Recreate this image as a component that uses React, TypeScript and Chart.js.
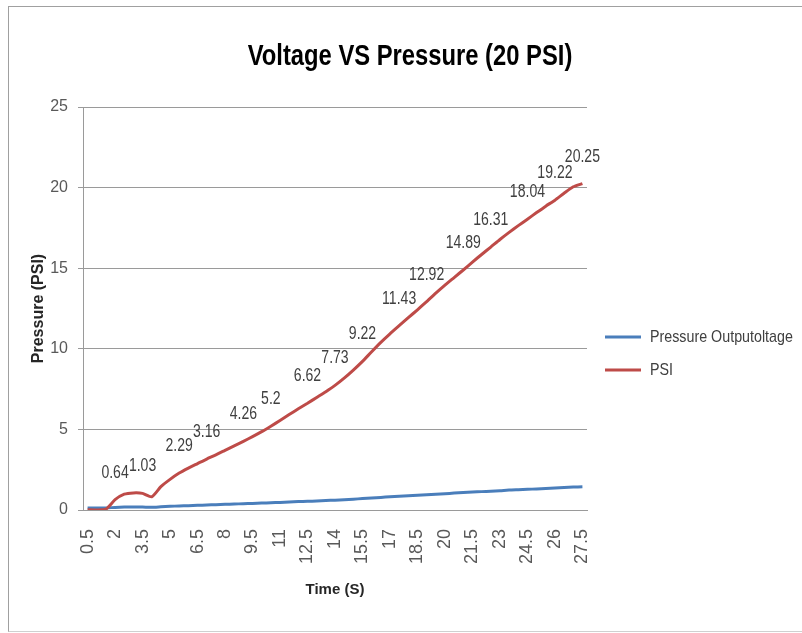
import React, { useEffect, useRef } from 'react';
import { Chart, registerables } from 'chart.js';

Chart.register(...registerables);

// ---------- data ----------
const CHART_TITLE = 'Voltage VS Pressure (20 PSI)';
const X_TITLE = 'Time (S)';
const Y_TITLE = 'Pressure (PSI)';
const SERIES_NAMES = ['Pressure Outputoltage', 'PSI'];

const TIMES = [
  '0.5', '1', '1.5', '2', '2.5', '3', '3.5', '4', '4.5', '5',
  '5.5', '6', '6.5', '7', '7.5', '8', '8.5', '9', '9.5', '10',
  '10.5', '11', '11.5', '12', '12.5', '13', '13.5', '14', '14.5', '15',
  '15.5', '16', '16.5', '17', '17.5', '18', '18.5', '19', '19.5', '20',
  '20.5', '21', '21.5', '22', '22.5', '23', '23.5', '24', '24.5', '25',
  '25.5', '26', '26.5', '27', '27.5',
];

const X_TICK_LABELS = [
  '0.5', '2', '3.5', '5', '6.5', '8', '9.5', '11', '12.5', '14',
  '15.5', '17', '18.5', '20', '21.5', '23', '24.5', '26', '27.5',
];

const VOLTAGE = [
  0.12, 0.12, 0.13, 0.16, 0.18, 0.18, 0.18, 0.17, 0.2, 0.23,
  0.25, 0.27, 0.29, 0.31, 0.33, 0.35, 0.37, 0.39, 0.41, 0.43,
  0.45, 0.47, 0.5, 0.52, 0.54, 0.56, 0.59, 0.61, 0.64, 0.67,
  0.71, 0.74, 0.78, 0.82, 0.85, 0.88, 0.92, 0.95, 0.98, 1.01,
  1.05, 1.08, 1.11, 1.14, 1.17, 1.2, 1.24, 1.26, 1.28, 1.31,
  1.33, 1.36, 1.39, 1.42, 1.44,
];

const PSI = [
  0.02, 0, 0.05, 0.64, 0.98, 1.06, 1.03, 0.82, 1.45, 1.9,
  2.29, 2.6, 2.88, 3.16, 3.42, 3.7, 3.98, 4.26, 4.55, 4.86,
  5.2, 5.55, 5.92, 6.28, 6.62, 6.98, 7.34, 7.73, 8.18, 8.68,
  9.22, 9.82, 10.4, 10.93, 11.43, 11.93, 12.42, 12.92, 13.45, 13.95,
  14.42, 14.89, 15.38, 15.85, 16.31, 16.78, 17.22, 17.64, 18.04, 18.45,
  18.85, 19.22, 19.65, 20.05, 20.25,
];

// times whose PSI value carries a data label
const LABELED_TIMES = [
  '2', '3.5', '5.5', '7', '9', '10.5', '12.5', '14', '15.5', '17.5',
  '19', '21', '22.5', '24.5', '26', '27.5',
];

const Y_MIN = 0;
const Y_MAX = 25;
const Y_STEP = 5;

// ---------- style ----------
const BLUE = '#4A7EBB';
const RED = '#BE4B48';
const GRID = '#9a9a9a';
const TICK = '#595959';
const TEXT = '#404040';
const SANS = '"Liberation Sans", Arial, sans-serif';

function drawCondensed(
  ctx: CanvasRenderingContext2D,
  text: string,
  x: number,
  y: number,
  sx: number,
  align: CanvasTextAlign
) {
  ctx.save();
  ctx.translate(x, y);
  ctx.scale(sx, 1);
  ctx.textAlign = align;
  ctx.textBaseline = 'middle';
  ctx.fillText(text, 0, 0);
  ctx.restore();
}

const titlePlugin = {
  id: 'customTitle',
  afterDraw(chart: any) {
    const ctx = chart.ctx;
    ctx.save();
    ctx.font = `bold 29px ${SANS}`;
    ctx.fillStyle = '#000000';
    drawCondensed(ctx, CHART_TITLE, 410, 57, 0.82, 'center');
    ctx.restore();
  },
};

const legendPlugin = {
  id: 'customLegend',
  afterDraw(chart: any) {
    const ctx = chart.ctx;
    const ys = [337, 370];
    ctx.save();
    chart.data.datasets.forEach((ds: any, i: number) => {
      const y = ys[i];
      ctx.strokeStyle = ds.borderColor;
      ctx.lineWidth = 3;
      ctx.beginPath();
      ctx.moveTo(605, y);
      ctx.lineTo(641, y);
      ctx.stroke();
      ctx.font = `17px ${SANS}`;
      ctx.fillStyle = TEXT;
      drawCondensed(ctx, ds.label, 650, y, 0.84, 'left');
    });
    ctx.restore();
  },
};

const dataLabelPlugin = {
  id: 'psiLabels',
  afterDatasetsDraw(chart: any) {
    const ctx = chart.ctx;
    const meta = chart.getDatasetMeta(1);
    ctx.save();
    ctx.font = `18px ${SANS}`;
    ctx.fillStyle = TEXT;
    TIMES.forEach((t, i) => {
      if (!LABELED_TIMES.includes(t)) return;
      const pt = meta.data[i];
      if (!pt) return;
      drawCondensed(ctx, String(PSI[i]), pt.x, pt.y - 27, 0.78, 'center');
    });
    ctx.restore();
  },
};

export default function App() {
  const ref = useRef<HTMLCanvasElement>(null);

  useEffect(() => {
    const canvas = ref.current;
    if (!canvas) return;
    const chart = new Chart(canvas, {
      type: 'line',
      data: {
        labels: TIMES,
        datasets: [
          {
            label: SERIES_NAMES[0],
            data: VOLTAGE,
            borderColor: BLUE,
            backgroundColor: BLUE,
            borderWidth: 3,
            pointRadius: 0,
            tension: 0.2,
            order: 1,
          },
          {
            label: SERIES_NAMES[1],
            data: PSI,
            borderColor: RED,
            backgroundColor: RED,
            borderWidth: 3,
            pointRadius: 0,
            tension: 0.2,
            order: 0,
          },
        ],
      },
      options: {
        animation: false,
        responsive: false,
        layout: { padding: { top: 107, right: 215, bottom: 0, left: 0 } },
        plugins: {
          legend: { display: false },
          title: { display: false },
          tooltip: { enabled: false },
        },
        scales: {
          x: {
            type: 'category',
            offset: true,
            grid: { display: false, drawTicks: false },
            border: { display: true, color: GRID, width: 1 },
            ticks: {
              autoSkip: false,
              minRotation: 90,
              maxRotation: 90,
              padding: 19,
              color: TICK,
              font: { family: SANS, size: 18 },
              callback: (_v: any, index: number) => {
                const l = TIMES[index];
                return X_TICK_LABELS.includes(l) ? l : '';
              },
            },
            title: {
              display: true,
              text: X_TITLE,
              color: '#262626',
              font: { family: SANS, size: 15, weight: 'bold' },
              padding: { top: 0, bottom: 34 },
            },
            afterFit: (s: any) => {
              s.height = 123;
            },
          },
          y: {
            min: Y_MIN,
            max: Y_MAX,
            ticks: {
              stepSize: Y_STEP,
              padding: 10,
              color: TICK,
              font: { family: SANS, size: 16 },
            },
            grid: { color: GRID, lineWidth: 1, drawTicks: true, tickLength: 5 },
            border: { display: true, color: GRID, width: 1 },
            title: {
              display: true,
              text: Y_TITLE,
              color: '#262626',
              font: { family: SANS, size: 16, weight: 'bold' },
              padding: { top: 29, bottom: 0 },
            },
            afterFit: (s: any) => {
              s.width = 83;
            },
          },
        },
      } as any,
      plugins: [titlePlugin, legendPlugin, dataLabelPlugin],
    });
    return () => chart.destroy();
  }, []);

  return (
    <div
      style={{
        position: 'absolute',
        left: 0,
        top: 0,
        width: 802,
        height: 633,
        overflow: 'hidden',
        background: '#ffffff',
      }}
    >
      <div
        style={{
          position: 'absolute',
          left: 8,
          top: 6,
          width: 820,
          height: 626,
          boxSizing: 'border-box',
          borderLeft: '1px solid #a0a0a0',
          borderTop: '1px solid #a0a0a0',
          borderBottom: '1px solid #d0d0d0',
        }}
      />
      <canvas
        ref={ref}
        width={802}
        height={633}
        style={{ position: 'absolute', left: 0, top: 0, width: 802, height: 633 }}
      />
    </div>
  );
}
